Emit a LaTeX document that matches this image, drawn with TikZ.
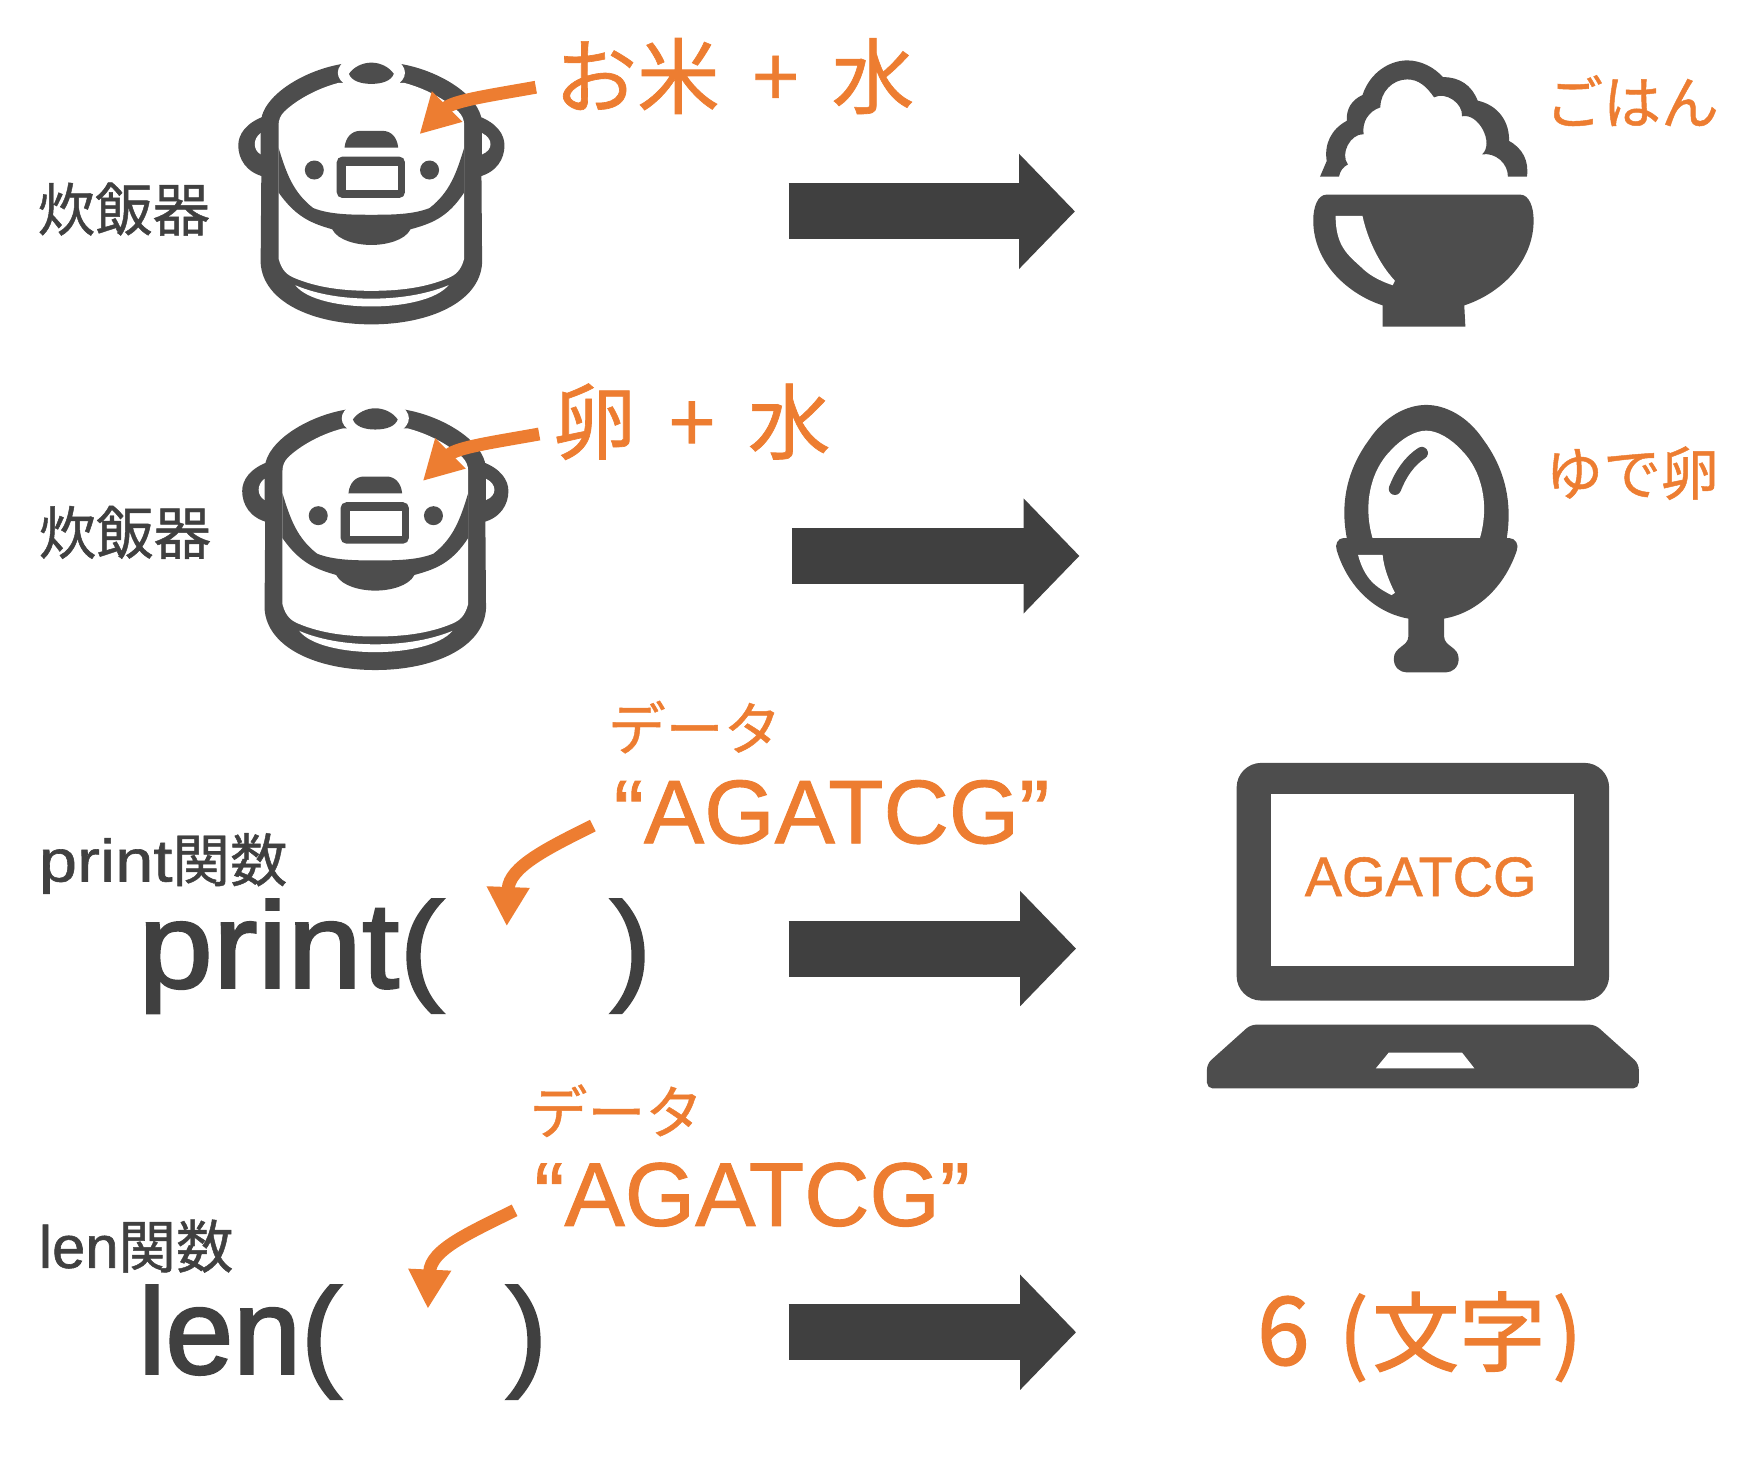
\documentclass[tikz,border=0pt]{standalone}
\usepackage{fontspec}
\setmainfont{Noto Sans CJK JP}[FakeBold=0.8]
\newfontfamily\cjkheavy{Noto Sans CJK JP}[FakeBold=1.6]
\newfontfamily\latinf{Liberation Sans}[FakeBold=1]
\newfontfamily\latinw{Liberation Sans}[FakeBold=1,FakeStretch=1.15]
\newfontfamily\codef{Liberation Sans}[FakeBold=2]
\newfontfamily\codew{Liberation Sans}[FakeBold=2,FakeStretch=1.1]
\usetikzlibrary{arrows.meta}
\definecolor{icon}{HTML}{4D4D4D}
\definecolor{dk}{HTML}{404040}
\definecolor{org}{HTML}{ED7D31}
\tikzset{
  x=0.01cm,y=-0.01cm,
  lbl/.style={text=dk,font=\fontsize{14.6pt}{16pt}\selectfont,inner sep=0pt,anchor=west},
  olbl/.style={text=org,font=\fontsize{14.7pt}{16pt}\selectfont,inner sep=0pt},
  obig/.style={text=org,font=\fontsize{21pt}{23pt}\selectfont,inner sep=0pt,anchor=west},
  seq/.style={text=org,font=\fontsize{23pt}{25pt}\selectfont\latinf,inner sep=0pt,anchor=west},
  code/.style={text=dk,font=\fontsize{31pt}{33pt}\selectfont\codef,inner sep=0pt,anchor=base west},
  bigarrow/.style={draw=dk,line width=0.5cm,-{Triangle[length=0.5cm,width=1cm]}},
  oarrow/.style={draw=org,line width=0.115cm,-{Triangle[length=0.35cm,width=0.36cm]}},
  cooker/.pic={
    \fill[icon] (236,104) .. controls (220,110) and (213,120) .. (213,130) .. controls (213,142) and (220,154) .. (236,158) -- cycle;
    \fill[icon] (428,104) .. controls (444,110) and (451,120) .. (451,130) .. controls (451,142) and (444,154) .. (428,158) -- cycle;
    \fill[white] (233,119) .. controls (226,124) and (226,134) .. (233,138) -- cycle;
    \fill[white] (431,119) .. controls (441,124) and (441,134) .. (431,138) -- cycle;
    \fill[icon] (307,57) .. controls (275,62) and (240,82) .. (234,104) -- (233,235) .. controls (235,270) and (280,290) .. (332,290) .. controls (384,290) and (429,270) .. (431,235) -- (430,104) .. controls (424,82) and (389,62) .. (357,57) -- cycle;
    \fill[white] (303,74) .. controls (280,80) and (262,92) .. (254,100) .. controls (251,103) and (249,107) .. (249,112) -- (249,231) .. controls (252,243) and (258,246) .. (262,248) .. controls (285,258) and (310,260) .. (332,260) .. controls (354,260) and (379,258) .. (402,248) .. controls (406,246) and (412,243) .. (415,231) -- (415,112) .. controls (415,107) and (413,103) .. (410,100) .. controls (402,92) and (384,80) .. (361,74) -- cycle;
    \fill[icon] (249,132) .. controls (256,155) and (262,172) .. (280,186) .. controls (295,192) and (315,192) .. (332,192) .. controls (349,192) and (369,192) .. (384,186) .. controls (402,172) and (408,155) .. (415,132) -- (415,172) .. controls (400,195) and (385,200) .. (367,205) .. controls (362,215) and (345,219) .. (332,219) .. controls (319,219) and (302,215) .. (297,205) .. controls (280,200) and (265,195) .. (249,172) -- cycle;
    \fill[white] (264,255) .. controls (285,264) and (310,267) .. (332,267) .. controls (354,267) and (379,264) .. (401,255) .. controls (390,268) and (360,274) .. (332,274) .. controls (304,274) and (274,268) .. (264,255) -- cycle;
    \fill[white] (332,65) ellipse (30 and 17);
    \fill[icon] (312,66) .. controls (316,60) and (324,56) .. (332,56) .. controls (340,56) and (348,60) .. (352,66) .. controls (350,72) and (342,75) .. (332,75) .. controls (322,75) and (314,72) .. (312,66) -- cycle;
    \fill[icon] (308,132) .. controls (309,122) and (315,117) .. (322,117) -- (342,117) .. controls (349,117) and (355,122) .. (356,132) -- cycle;
    \fill[icon] (281,152) circle (8.5);
    \fill[icon] (384,152) circle (8.5);
    \fill[icon,rounded corners=0.05cm] (301,140) rectangle (362,177);
    \fill[white] (309,148) rectangle (356,170);
  }
}
\begin{document}
\begin{tikzpicture}
\useasboundingbox (0,0) rectangle (1568,1310.6);

% cookers
\pic at (0,0) {cooker};
\pic at (3.5,309) {cooker};

% rice bowl
\fill[icon] (1180,158) -- (1186,144) to[bend left=35] (1204,108) to[bend left=35] (1218,85) .. controls (1225,64) and (1243,54) .. (1258,54) .. controls (1270,54) and (1282,60) .. (1290,69) to[bend left=35] (1321,90) to[bend left=40] (1349,126) to[bend left=35] (1365,158) -- (1348,158) to[bend right=50] (1325,138) to[bend right=75] (1307,104) to[bend right=60] (1282,87) .. controls (1275,77) and (1268,71) .. (1258,71) .. controls (1245,71) and (1234,82) .. (1234,96) to[bend right=40] (1219,120) to[bend right=65] (1205,147) to[bend right=25] (1197,158) -- cycle;
\fill[icon] (1186,174) -- (1359,174) .. controls (1367,174) and (1371,185) .. (1371,197) .. controls (1371,235) and (1340,263) .. (1309,273) -- (1310,292) -- (1236,292) -- (1236,273) .. controls (1205,263) and (1174,235) .. (1174,197) .. controls (1174,185) and (1178,174) .. (1186,174) -- cycle;
\fill[white] (1194,193) -- (1218,193) .. controls (1222,212) and (1232,235) .. (1247,251) -- (1245,255) .. controls (1230,250) and (1222,244) .. (1217,239) .. controls (1205,228) and (1194,220) .. (1194,193) -- cycle;

% egg
\fill[icon] (1204,481) .. controls (1198,450) and (1204,420) .. (1224,393) .. controls (1238,372) and (1258,362) .. (1275,362) .. controls (1292,362) and (1312,372) .. (1326,393) .. controls (1346,420) and (1352,450) .. (1347,481) -- cycle;
\fill[white] (1227,481) .. controls (1218,450) and (1226,420) .. (1243,403) .. controls (1253,392) and (1265,385) .. (1275,385) .. controls (1285,385) and (1297,392) .. (1307,403) .. controls (1324,420) and (1332,450) .. (1323,481) -- cycle;
\draw[icon,line width=0.11cm,line cap=round] (1271,405) .. controls (1260,412) and (1252,424) .. (1247,437);
\fill[icon] (1201,481) -- (1349,481) .. controls (1355,481) and (1358,487) .. (1356,492) .. controls (1345,525) and (1320,548) .. (1291,553) -- (1291,569) .. controls (1291,578) and (1304,578) .. (1304,589) .. controls (1304,597) and (1298,601) .. (1293,601) -- (1257,601) .. controls (1252,601) and (1246,597) .. (1246,589) .. controls (1246,578) and (1259,578) .. (1259,569) -- (1259,553) .. controls (1230,548) and (1205,525) .. (1195,492) .. controls (1193,487) and (1196,481) .. (1201,481) -- cycle;
\fill[white] (1214,496) -- (1236,496) .. controls (1237,508) and (1242,520) .. (1247,530) -- (1244,532) .. controls (1230,525) and (1220,518) .. (1214,496) -- cycle;

% laptop
\fill[icon,rounded corners=0.22cm] (1105.5,682) rectangle (1438.5,894.5);
\fill[white] (1136.5,710) rectangle (1407.5,863.5);
\fill[icon,rounded corners=0.05cm] (1079,973) -- (1079,951) -- (1118,916) -- (1426,916) -- (1465,951) -- (1465,973) -- cycle;
\fill[white] (1241.5,941) -- (1307,941) -- (1318,955) -- (1230,955) -- cycle;

% texts
\node[lbl] (c1) at (33,187) {炊飯器};
\node[lbl] (c2) at (34,476) {炊飯器};
\node[obig] (in1) at (495,68) {お米\hspace{0.4em}+\hspace{0.4em}水};
\node[obig] (in2) at (494,377) {卵\hspace{0.4em}+\hspace{0.4em}水};
\node[olbl] (r1) at (1459,90) {ごはん};
\node[olbl] (r2) at (1459,423) {ゆで卵};
\node[olbl] (d1) at (621,650) {データ};
\node[olbl] (d2) at (551,993) {データ};
\node[seq] (s1) at (548,726) {“AGATCG”};
\node[seq] (s2) at (477,1068) {“AGATCG”};
\node[lbl] (f1) at (34,772) {{\fontsize{15.2pt}{16pt}\selectfont\latinw print}関数};
\node[lbl] (f2) at (34,1114) {{\fontsize{15.2pt}{16pt}\selectfont\latinf len}関数};
\node[code] (p1) at (123,883) {\codew print(};
\node[code] (p2) at (545,883) {)};
\node[code] (l1) at (123,1228) {len(};
\node[code] (l2) at (452,1228) {)};
\node[text=org,font=\fontsize{14.2pt}{16pt}\selectfont\latinf,inner sep=0pt] (out) at (1270,784) {AGATCG};
\node[text=org,font=\fontsize{22pt}{24pt}\selectfont\cjkheavy,inner sep=0pt] (six) at (1269,1195) {{\fontsize{24pt}{24pt}\selectfont 6}\hspace{0.34em}(\hspace{0.05em}文字\hspace{0.08em})};

% orange arrows
\coordinate (t1) at (479,78); \coordinate (h1) at (375,120);
\coordinate (t2) at (482,388); \coordinate (h2) at (378,430);
\coordinate (t3) at (530,738); \coordinate (h3) at (453,828);
\coordinate (t4) at (460,1082); \coordinate (h4) at (382.5,1170);
\draw[oarrow] (t1) .. controls (440,85) and (405,90) .. (h1);
\draw[oarrow] (t2) .. controls (443,395) and (408,400) .. (h2);
\draw[oarrow] (t3) .. controls (490,758) and (455,775) .. (h3);
\draw[oarrow] (t4) .. controls (420,1102) and (385,1117) .. (h4);

% big arrows
\coordinate (a1) at (705,189); \coordinate (b1) at (961,189);
\coordinate (a2) at (708,497); \coordinate (b2) at (965,497);
\coordinate (a3) at (705,848); \coordinate (b3) at (962,848);
\coordinate (a4) at (705,1191); \coordinate (b4) at (962,1191);
\draw[bigarrow] (a1) -- (b1);
\draw[bigarrow] (a2) -- (b2);
\draw[bigarrow] (a3) -- (b3);
\draw[bigarrow] (a4) -- (b4);
\end{tikzpicture}
\end{document}
